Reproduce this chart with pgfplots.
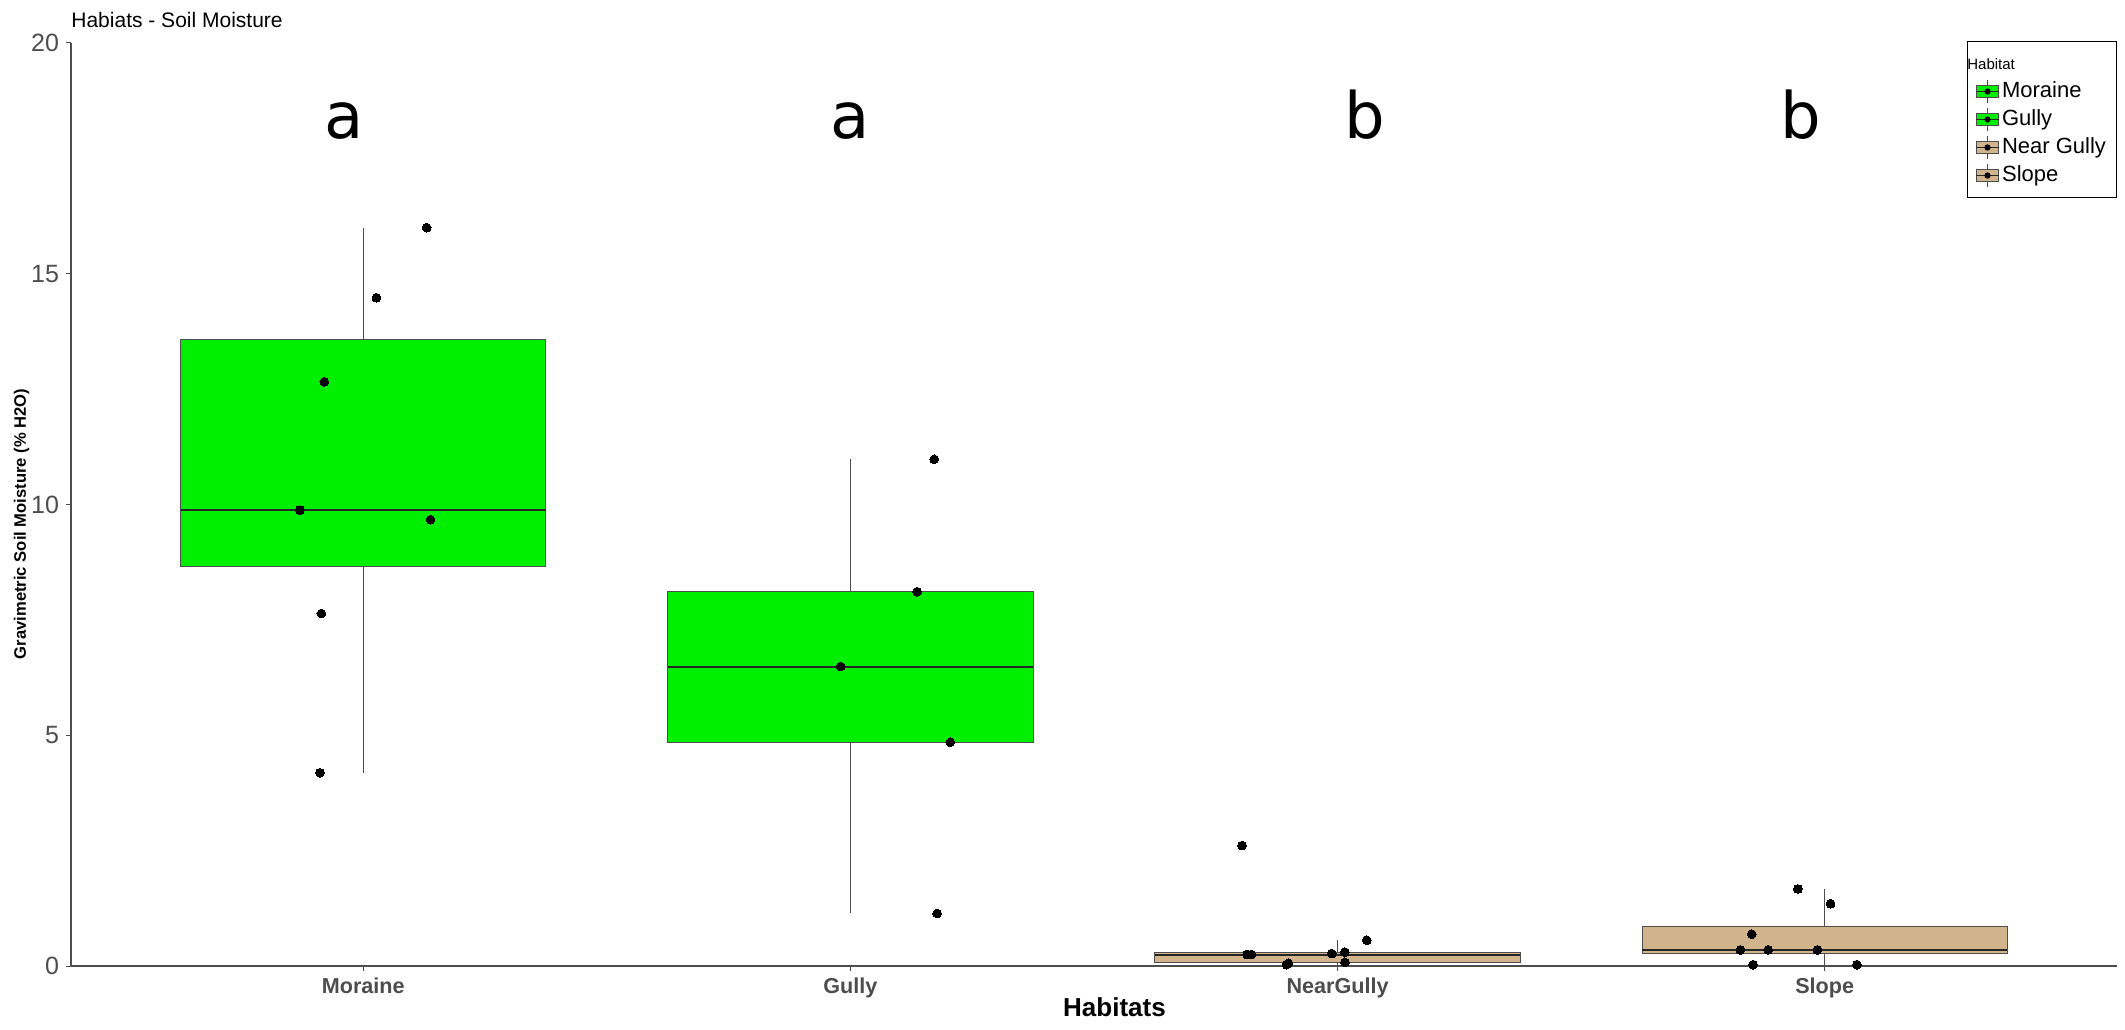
\documentclass[border=0pt]{standalone}
\usepackage{fontspec}
\setmainfont{Liberation Sans}
\newfontfamily\dejavu{DejaVu Sans}
\usepackage{pgfplots}
\pgfplotsset{compat=1.18}
\usepgfplotslibrary{statistics}
\definecolor{boxgreen}{HTML}{00EE00}
\definecolor{boxtan}{HTML}{D2B48C}
\definecolor{edge}{HTML}{4D4D4D}
\definecolor{ticktext}{HTML}{4D4D4D}

\pgfplotsset{
  habbox/.style={forget plot, draw=edge, line width=0.5pt,
    boxplot/draw direction=y,
    boxplot/box extend=0.75, boxplot/whisker extend=0,
    boxplot/every median/.style={draw=black!85, line width=1pt}},
  keybase/.style={legend image code/.code={
    \draw[edge, line width=0.5pt] (0.2cm,-0.2cm) -- (0.2cm,0.2cm);
    \draw[edge, line width=0.5pt, fill=#1] (0cm,-0.1cm) rectangle (0.4cm,0.1cm);
    \draw[black!85, line width=0.7pt] (0cm,0cm) -- (0.4cm,0cm);
    \fill[black] (0.2cm,0cm) circle (1.3pt);
  }},
}

\begin{document}
\begin{tikzpicture}
\begin{axis}[
  name=ax,
  scale only axis,
  width=1023pt, height=461.5pt,
  xmin=0.4, xmax=4.6,
  ymin=0, ymax=20,
  axis lines=left,
  axis line style={-, edge, line width=1pt},
  tick style={edge, line width=0.5pt},
  tick align=outside,
  major tick length=2.5pt,
  xtick={1,2,3,4},
  xticklabels={Moraine,Gully,NearGully,Slope},
  ytick={0,5,10,15,20},
  /pgf/number format/assume math mode=true,
  xticklabel style={font=\bfseries\fontsize{10.8}{13}\selectfont, text=ticktext},
  yticklabel style={font=\fontsize{12.5}{14}\selectfont, text=ticktext},
  xlabel={Habitats},
  xlabel style={font=\bfseries\fontsize{13}{15}\selectfont,
    at={(axis description cs:0.51,-0.0444)}, anchor=center},
  ylabel={Gravimetric Soil Moisture (\% H2O)},
  ylabel style={font=\bfseries\fontsize{8.3}{10}\selectfont,
    at={(axis description cs:-0.0241,0.479)}, anchor=center},
  title={Habiats - Soil Moisture},
  title style={font=\fontsize{10.5}{12}\selectfont,
    at={(axis description cs:0,1)}, anchor=base west, yshift=1.6pt, inner sep=0pt},
  legend cell align=left,
  legend style={at={(axis description cs:1,1)}, anchor=north east, yshift=1pt,
    draw=black, line width=0.5pt, fill=white,
    font=\fontsize{11}{13}\selectfont, row sep=0pt,
    nodes={inner sep=1.25pt, text height=8.5pt, text depth=3pt},
    inner xsep=4pt, inner ysep=4pt},
]

% boxes
\addplot[habbox, fill=boxgreen, boxplot prepared={draw position=1,
  lower whisker=4.19, lower quartile=8.655, median=9.88,
  upper quartile=13.57, upper whisker=16.0}] coordinates {};
\addplot[habbox, fill=boxgreen, boxplot prepared={draw position=2,
  lower whisker=1.14, lower quartile=4.85, median=6.49,
  upper quartile=8.11, upper whisker=10.98}] coordinates {};
\addplot[habbox, fill=boxtan, boxplot prepared={draw position=3,
  lower whisker=0.03, lower quartile=0.08, median=0.25,
  upper quartile=0.30, upper whisker=0.56}] coordinates {};
\addplot[habbox, fill=boxtan, boxplot prepared={draw position=4,
  lower whisker=0.03, lower quartile=0.27, median=0.35,
  upper quartile=0.855, upper whisker=1.67}] coordinates {};

% jittered observations
\addplot[forget plot, only marks, mark=*, mark size=2.2pt,
  mark options={fill=black, draw=black, line width=0pt}] coordinates {
  (1.130,16.00) (1.027,14.48) (0.920,12.66) (0.870,9.88) (1.138,9.67)
  (0.914,7.64) (0.911,4.19)
  (2.172,10.98) (2.137,8.11) (1.980,6.49) (2.205,4.85) (2.178,1.14)
  (2.804,2.61) (2.814,0.25) (2.823,0.25) (2.895,0.03) (2.899,0.06)
  (2.988,0.27) (3.015,0.30) (3.015,0.08) (3.060,0.56)
  (3.945,1.67) (4.012,1.35) (3.850,0.69) (3.827,0.35) (3.884,0.35)
  (3.985,0.35) (3.853,0.03) (4.066,0.03)
};

% significance letters
\addplot[forget plot, only marks, mark=none,
  nodes near coords, point meta=explicit symbolic,
  nodes near coords align={anchor=base},
  nodes near coords style={font=\dejavu\fontsize{32}{36}\selectfont, inner sep=0pt}]
  table[meta=lab] {
x y lab
0.960 17.93 a
2.000 17.93 a
3.056 17.93 b
3.950 17.93 b
};

% legend
\addlegendimage{empty legend}
\addlegendentry{\hspace{-0.61cm}\fontsize{7.5}{9}\selectfont Habitat}
\addlegendimage{keybase=boxgreen}
\addlegendentry{Moraine}
\addlegendimage{keybase=boxgreen}
\addlegendentry{Gully}
\addlegendimage{keybase=boxtan}
\addlegendentry{Near Gully}
\addlegendimage{keybase=boxtan}
\addlegendentry{Slope}
\end{axis}
\pgfresetboundingbox
\path[use as bounding box] ([xshift=-35.5pt,yshift=-31.5pt]ax.south west)
  rectangle ([xshift=4pt,yshift=21.5pt]ax.north east);
\end{tikzpicture}
\end{document}
